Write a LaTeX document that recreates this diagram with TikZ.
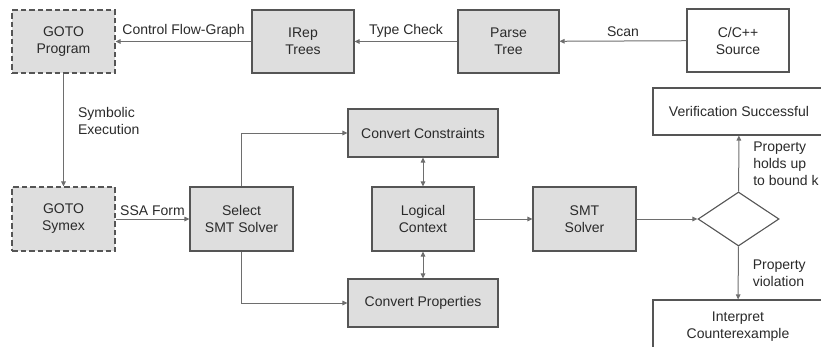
\documentclass[tikz,border=0pt]{standalone}
\usepackage{fontspec}
\setmainfont{Liberation Sans}
\usetikzlibrary{arrows.meta,shapes.geometric}
\definecolor{boxfill}{HTML}{DEDEDE}
\definecolor{boxline}{HTML}{555555}
\definecolor{conn}{HTML}{6E6E6E}
\definecolor{txt}{HTML}{2A2A2A}
\begin{document}
\begin{tikzpicture}[x=1pt,y=-1pt,
  font=\fontsize{14}{17}\selectfont, text=txt,
  proc/.style={draw=boxline, line width=1.1pt, fill=boxfill, align=center, inner sep=0pt, minimum width=#1},
  proc/.default=102pt,
  plain/.style={draw=boxline, line width=1.1pt, fill=white, align=center, inner sep=0pt},
  dashbox/.style={proc, dash pattern=on 5.5pt off 3pt},
  conn/.style={draw=conn, line width=1pt, -{Triangle[length=5pt,width=4.5pt]}},
  bconn/.style={draw=conn, line width=1pt, {Triangle[length=5pt,width=4.5pt]}-{Triangle[length=5pt,width=4.5pt]}},
  lbl/.style={font=\fontsize{14}{17}\selectfont, text=txt, inner sep=1pt}
]
\useasboundingbox (0,0) rectangle (821,346);
\clip (0,0) rectangle (821,346);

% top row
\node[dashbox, minimum width=103pt, minimum height=63pt] (prog) at (63.5,41.5) {GOTO\\Program};
\node[proc, minimum height=63pt] (irep) at (303,41.5) {IRep\\Trees};
\node[proc=101pt, minimum height=63pt] (parse) at (508.5,41.5) {Parse\\Tree};
\node[plain, minimum width=102pt, minimum height=63pt] (src) at (738,40.5) {C/C++\\Source};

% middle row
\node[dashbox, minimum width=103pt, minimum height=64pt] (symex) at (63.5,219) {GOTO\\Symex};
\node[proc=103pt, minimum height=64pt] (select) at (241.5,219) {Select\\SMT Solver};
\node[proc=150pt, minimum height=48pt] (cons) at (423,133) {Convert Constraints};
\node[proc=150pt, minimum height=48pt] (props) at (423,303) {Convert Properties};
\node[proc, minimum height=64pt] (logic) at (423,219) {Logical\\Context};
\node[proc=103pt, minimum height=64pt] (smt) at (584.5,219) {SMT\\Solver};
\node[draw=boxline, line width=1.1pt, fill=white, diamond, inner sep=0pt, minimum width=81pt, minimum height=54pt] (dia) at (738.5,219) {};
\node[plain, minimum width=172pt, minimum height=47pt] (verif) at (739,111.5) {Verification Successful};
\node[plain, minimum width=170pt, minimum height=54pt] (interp) at (738,327) {Interpret\\Counterexample};

% connectors
\draw[conn] (src) -- node[lbl, above=3pt] {Scan} (parse);
\draw[conn] (parse) -- node[lbl, above=3pt] {Type Check} (irep);
\draw[conn] (irep) -- node[lbl, above=3pt] {Control Flow-Graph} (prog);
\draw[conn] (prog) -- node[lbl, pos=0.42, right=13pt, align=left] {Symbolic\\Execution} (symex);
\draw[conn] (symex) -- node[lbl, above=2pt] {SSA Form} (select);
\draw[conn] (select.north) |- (cons.west);
\draw[conn] (select.south) |- (props.west);
\draw[bconn] (cons) -- (logic);
\draw[bconn] (logic) -- (props);
\draw[conn] (logic) -- (smt);
\draw[conn] (smt) -- (dia);
\draw[conn] (dia) -- node[lbl, right=13pt, align=left] {Property\\holds up\\to bound k} (verif);
\draw[conn] (dia) -- node[lbl, right=13pt, align=left] {Property\\violation} (interp);
\end{tikzpicture}
\end{document}
